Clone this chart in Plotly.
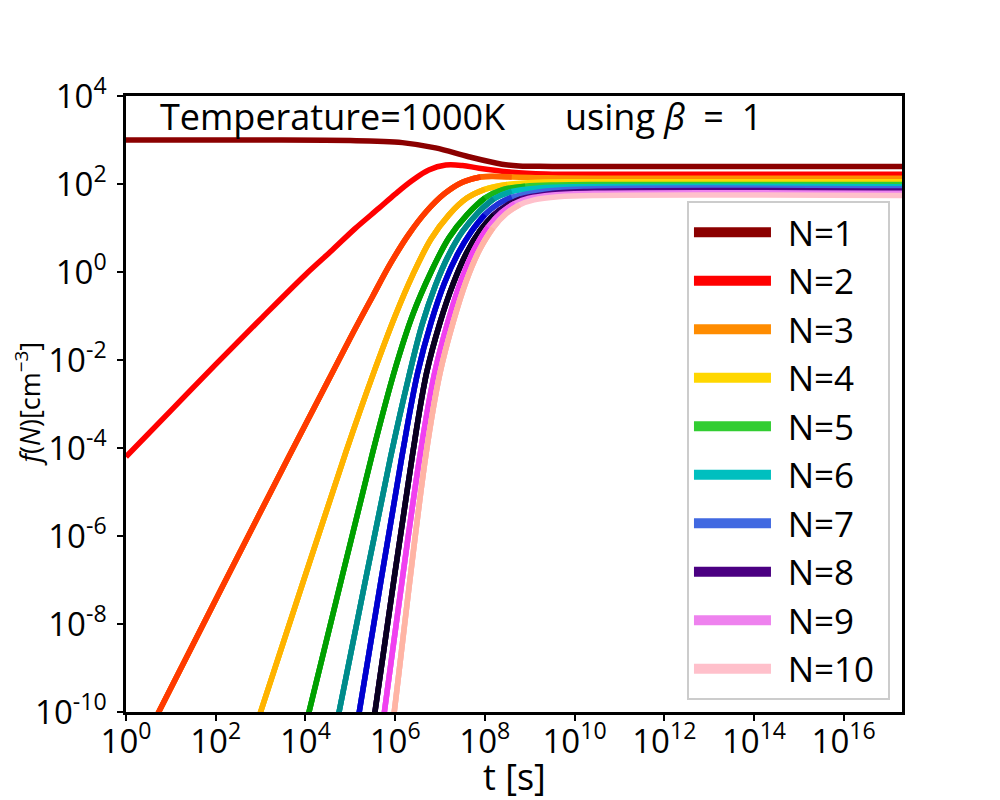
import numpy as np
import plotly.graph_objects as go

# ---------------- data (log10 values) ----------------
labels = ["N=1", "N=2", "N=3", "N=4", "N=5", "N=6", "N=7", "N=8", "N=9", "N=10"]

logt_n1 = [0, 3, 5, 5.6, 6.16, 6.9, 7.64, 8.38, 8.76, 9.5, 17.3]
logf_n1 = [3.0, 3.0, 2.99, 2.97, 2.94, 2.82, 2.62, 2.45, 2.41, 2.40, 2.40]

logt_n2 = [0, 1, 2, 3, 4, 4.6, 5.1, 5.64, 6.0, 6.38, 6.75, 7.13, 7.5, 7.87, 8.6, 9.36, 10.5, 17.3]
logf_n2 = [-4.2, -3.15, -2.1, -1.07, -0.06, 0.5, 0.98, 1.45, 1.77, 2.08, 2.32, 2.43, 2.42, 2.36, 2.27, 2.23, 2.22, 2.22]

logt_n3 = [0.5, 0.73, 3.0, 5.0, 5.5, 5.9, 6.3, 6.7, 7.1, 7.5, 7.9, 8.6, 9.4, 10.5, 17.3]
logf_n3 = [-10.46, -10, -5.45, -1.5, -0.55, 0.2, 0.85, 1.38, 1.78, 2.04, 2.16, 2.16, 2.14, 2.13, 2.13]

logt_n4 = [2.8, 3.0, 4.9, 5.5, 6.0, 6.4, 6.8, 7.2, 7.6, 8.0, 8.5, 9.2, 10.2, 17.3]
logf_n4 = [-10.6, -10, -4.1, -2.35, -1.0, -0.05, 0.75, 1.3, 1.68, 1.88, 1.99, 2.04, 2.05, 2.05]

logt_n5 = [3.85, 4.08, 5.5, 6.0, 6.4, 6.8, 7.2, 7.6, 8.0, 8.4, 8.9, 9.6, 10.5, 17.3]
logf_n5 = [-10.9, -10, -4.1, -2.2, -0.95, 0.0, 0.78, 1.3, 1.68, 1.87, 1.95, 1.98, 1.99, 1.99]

logt_n6 = [4.55, 4.75, 5.9, 6.3, 6.6, 6.9, 7.2, 7.5, 7.85, 8.2, 8.6, 9.2, 10.2, 17.3]
logf_n6 = [-11, -10, -4.2, -2.4, -1.2, -0.3, 0.4, 0.92, 1.35, 1.66, 1.83, 1.91, 1.94, 1.94]

logt_n7 = [5.03, 5.2, 6.15, 6.5, 6.8, 7.1, 7.4, 7.7, 8.0, 8.3, 8.6, 9.13, 10.0, 17.3]
logf_n7 = [-11, -10, -4.2, -2.3, -1.15, -0.25, 0.42, 0.92, 1.3, 1.55, 1.7, 1.81, 1.88, 1.89]

logt_n8 = [5.41, 5.55, 6.38, 6.7, 7.0, 7.3, 7.6, 7.9, 8.2, 8.5, 8.8, 9.36, 10.2, 17.3]
logf_n8 = [-11, -10, -4.2, -2.3, -1.15, -0.25, 0.45, 0.95, 1.3, 1.52, 1.66, 1.77, 1.83, 1.84]

logt_n9 = [5.63, 5.76, 6.55, 6.88, 7.18, 7.47, 7.77, 8.07, 8.37, 8.67, 8.97, 9.5, 10.5, 17.3]
logf_n9 = [-11, -10, -4.2, -2.3, -1.12, -0.2, 0.52, 1.02, 1.35, 1.56, 1.67, 1.75, 1.79, 1.79]

logt_n10 = [5.86, 5.98, 6.68, 7.0, 7.3, 7.58, 7.88, 8.18, 8.48, 8.78, 9.1, 9.64, 10.5, 17.3]
logf_n10 = [-11, -10, -4.2, -2.3, -1.12, -0.22, 0.5, 1.0, 1.33, 1.53, 1.64, 1.71, 1.74, 1.74]

x_tick_exps = [0, 2, 4, 6, 8, 10, 12, 14, 16]
y_tick_exps = [-10, -8, -6, -4, -2, 0, 2, 4]
x_tick_text = ["10<sup>%d</sup>" % e for e in x_tick_exps]
y_tick_text = ["10<sup>%d</sup>" % e for e in y_tick_exps]

# ---------------- styles ----------------
legend_colors = ["#8B0000", "#FF0000", "#FF8C00", "#FFD700", "#32CD32",
                 "#00BFBF", "#4169E1", "#4B0082", "#EE82EE", "#FFC0CB"]
early_colors = ["#8B0000", "#FF0000", "#FF3A00", "#FFB300", "#00A000",
                "#008B8B", "#0000D0", "#0A0020", "#F040F0", "#FFB4A4"]

FONT = "Open Sans"


def blend(c1, c2, a=0.5):
    r1, g1, b1 = int(c1[1:3], 16), int(c1[3:5], 16), int(c1[5:7], 16)
    r2, g2, b2 = int(c2[1:3], 16), int(c2[3:5], 16), int(c2[5:7], 16)
    return "#%02X%02X%02X" % (round(r1 * a + r2 * (1 - a)), round(g1 * a + g2 * (1 - a)),
                              round(b1 * a + b2 * (1 - a)))


all_t = [logt_n1, logt_n2, logt_n3, logt_n4, logt_n5, logt_n6, logt_n7, logt_n8, logt_n9, logt_n10]
all_f = [logf_n1, logf_n2, logf_n3, logf_n4, logf_n5, logf_n6, logf_n7, logf_n8, logf_n9, logf_n10]

fig = go.Figure()
LW = 5.5
for i in range(10):
    lt = np.array(all_t[i], dtype=float)
    lf = np.array(all_f[i], dtype=float)
    t = 10.0 ** lt
    f = 10.0 ** lf
    fig.add_trace(go.Scatter(x=t, y=f, mode="lines", showlegend=False, hoverinfo="skip",
                             line=dict(color=legend_colors[i], width=LW, shape="spline", smoothing=1)))
    if early_colors[i] != legend_colors[i]:
        m1 = lt <= 8.95
        fig.add_trace(go.Scatter(x=t[m1], y=f[m1], mode="lines", showlegend=False, hoverinfo="skip",
                                 line=dict(color=blend(early_colors[i], legend_colors[i]), width=LW,
                                           shape="spline", smoothing=1)))
        m2 = lt <= 8.25
        fig.add_trace(go.Scatter(x=t[m2], y=f[m2], mode="lines", showlegend=False, hoverinfo="skip",
                                 line=dict(color=early_colors[i], width=LW, shape="spline", smoothing=1)))

# legend entries
for i in range(10):
    fig.add_trace(go.Scatter(x=[None], y=[None], mode="lines", name="\u2004" + labels[i] + "\u2005",
                             line=dict(color=legend_colors[i], width=10)))

axis_common = dict(type="log", showgrid=False, zeroline=False, showline=True, linecolor="black",
                   linewidth=2.5, mirror=True, ticks="outside", ticklen=6, tickwidth=1.5,
                   tickcolor="black", tickfont=dict(family=FONT, size=33, color="black"))

fig.update_layout(
    width=992, height=792,
    margin=dict(l=118, r=98, t=88, b=88),
    paper_bgcolor="white", plot_bgcolor="white",
    font=dict(family=FONT, color="black"),
    xaxis=dict(range=[0, 17.3], tickvals=[10.0 ** e for e in x_tick_exps], ticktext=x_tick_text,
               ticklabelstandoff=-7, **axis_common),
    yaxis=dict(range=[-10, 4], tickvals=[10.0 ** e for e in y_tick_exps], ticktext=y_tick_text,
               ticklabelstandoff=4, **axis_common),
    legend=dict(x=0.9845, xanchor="right", y=0.0195, yanchor="bottom",
                font=dict(family=FONT, size=35, color="black"),
                bordercolor="#CCCCCC", borderwidth=2, bgcolor="rgba(255,255,255,0.85)",
                itemwidth=77, tracegroupgap=0),
    showlegend=True,
)

fig.add_annotation(text="Temperature=1000K", xref="paper", yref="paper", x=0.041, y=0.966,
                   xanchor="left", yanchor="middle", showarrow=False,
                   font=dict(family=FONT, size=36, color="black"))
fig.add_annotation(text="using <i>β</i>\u2002=\u20021", xref="paper", yref="paper", x=0.563, y=0.966,
                   xanchor="left", yanchor="middle", showarrow=False,
                   font=dict(family=FONT, size=36, color="black"))
fig.add_annotation(text="<i>f</i>(<i>N</i>)[cm<sup>−3</sup>]", xref="paper", yref="paper",
                   x=-0.127, y=0.5, xanchor="center", yanchor="middle", textangle=-90,
                   showarrow=False, font=dict(family=FONT, size=27, color="black"))
fig.add_annotation(text="t [s]", xref="paper", yref="paper", x=0.5, y=-0.104,
                   xanchor="center", yanchor="middle", showarrow=False,
                   font=dict(family=FONT, size=36, color="black"))

fig.write_html("out.html")
